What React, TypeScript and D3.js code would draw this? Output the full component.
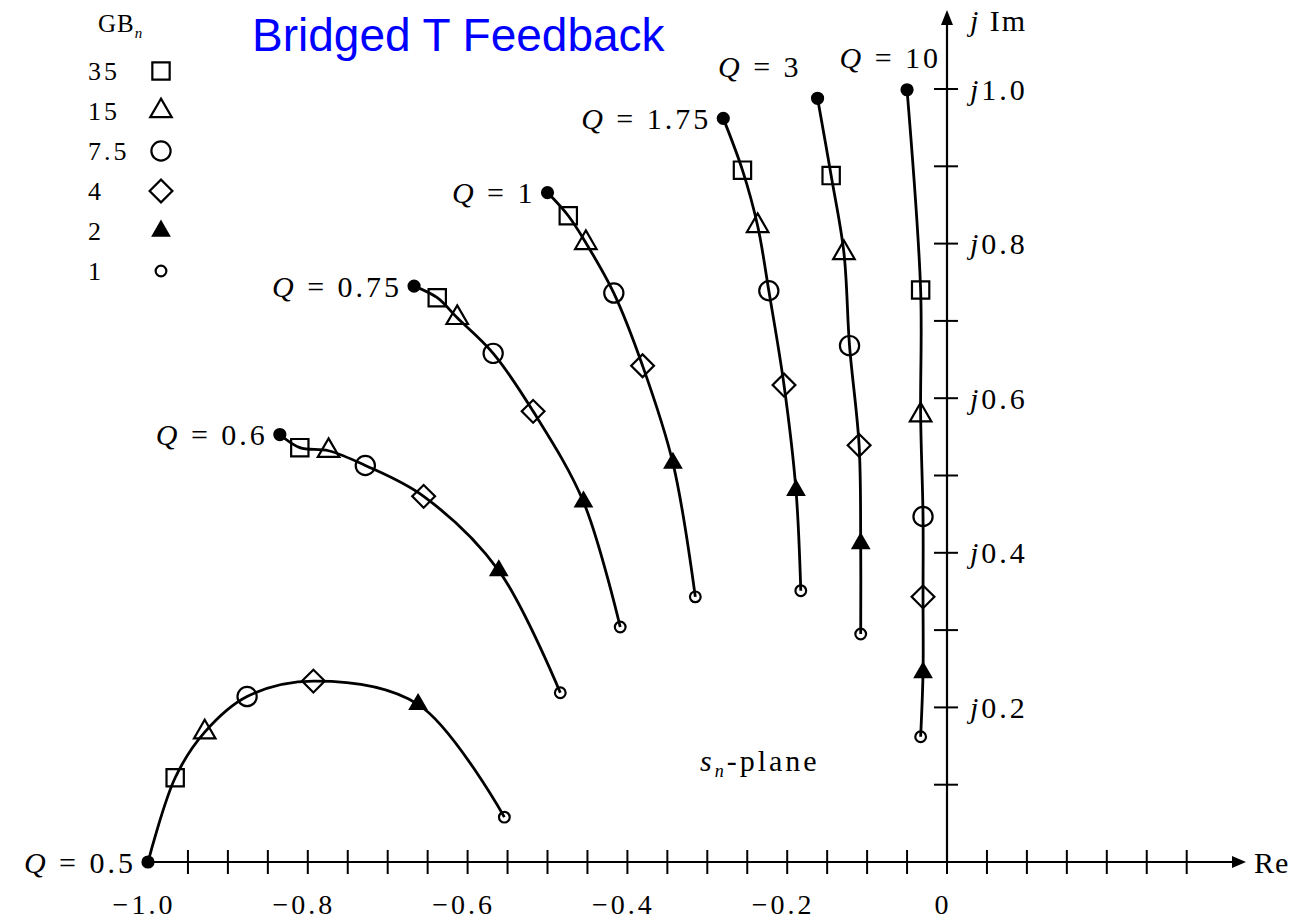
import React from "react";
import * as d3 from "d3";

// Q values of the loci and the GB_n legend entries
const qLabels = ["0.5", "0.6", "0.75", "1", "1.75", "3", "10"];
const gbLabels = ["35", "15", "7.5", "4", "2", "1"];

// axis ticks
const xTickValues = [-1.0, -0.8, -0.6, -0.4, -0.2, 0];
const xTickLabels = ["\u22121.0", "\u22120.8", "\u22120.6", "\u22120.4", "\u22120.2", "0"];
const yTickValues = [0.2, 0.4, 0.6, 0.8, 1.0];
const yTickLabels = ["0.2", "0.4", "0.6", "0.8", "1.0"];

// pole positions along each locus: [GB=inf, 35, 15, 7.5, 4, 2, 1]
const q05Re = [-1.0, -0.966, -0.929, -0.876, -0.793, -0.662, -0.554];
const q05Im = [0.0, 0.109, 0.168, 0.214, 0.234, 0.204, 0.058];
const q06Re = [-0.835, -0.81, -0.774, -0.728, -0.655, -0.561, -0.484];
const q06Im = [0.553, 0.536, 0.532, 0.513, 0.473, 0.377, 0.219];
const q075Re = [-0.667, -0.638, -0.613, -0.568, -0.518, -0.455, -0.409];
const q075Im = [0.745, 0.73, 0.704, 0.658, 0.583, 0.466, 0.304];
const q1Re = [-0.5, -0.474, -0.452, -0.417, -0.381, -0.343, -0.315];
const q1Im = [0.866, 0.836, 0.801, 0.736, 0.642, 0.516, 0.343];
const q175Re = [-0.28, -0.256, -0.237, -0.223, -0.204, -0.189, -0.183];
const q175Im = [0.962, 0.895, 0.823, 0.739, 0.617, 0.481, 0.351];
const q3Re = [-0.162, -0.145, -0.129, -0.122, -0.11, -0.108, -0.108];
const q3Im = [0.988, 0.888, 0.788, 0.668, 0.539, 0.412, 0.295];
const q10Re = [-0.05, -0.033, -0.033, -0.03, -0.03, -0.03, -0.033];
const q10Im = [0.999, 0.74, 0.578, 0.447, 0.343, 0.245, 0.162];

const lociRe = [q05Re, q06Re, q075Re, q1Re, q175Re, q3Re, q10Re];
const lociIm = [q05Im, q06Im, q075Im, q1Im, q175Im, q3Im, q10Im];

const W = 1299;
const H = 924;
const serif = "'Liberation Serif', 'Times New Roman', serif";
const sp = 3; // the scanned lettering is loosely spaced

const x = d3.scaleLinear().domain([-1, 0]).range([148, 947]);
const y = d3.scaleLinear().domain([0, 1]).range([862, 89]);

// marker kinds, index 0 is the GB=inf dot
type Mk = { type: d3.SymbolType; size: number; fill: boolean; rot?: number };
const markers: Mk[] = [
  { type: d3.symbolCircle, size: 95, fill: true },
  { type: d3.symbolSquare, size: 300, fill: false },
  { type: d3.symbolTriangle, size: 200, fill: false },
  { type: d3.symbolCircle, size: 290, fill: false },
  { type: d3.symbolSquare, size: 260, fill: false, rot: 45 },
  { type: d3.symbolTriangle, size: 110, fill: true },
  { type: d3.symbolCircle, size: 90, fill: false },
];

function Marker({ k, cx, cy }: { k: number; cx: number; cy: number }) {
  const m = markers[k];
  const d = d3.symbol().type(m.type).size(m.size)() as string;
  return (
    <path
      d={d}
      transform={`translate(${cx},${cy})${m.rot ? ` rotate(${m.rot})` : ""}`}
      fill={m.fill ? "#000" : "none"}
      stroke="#000"
      strokeWidth={2.2}
    />
  );
}

function QLabel({ i, px, py }: { i: number; px: number; py: number }) {
  let tx = px - 12;
  let ty = py;
  if (i === 5) {
    tx = px - 16;
    ty = py - 32;
  } else if (i === 6) {
    tx = px + 34;
    ty = py - 32;
  }
  return (
    <text
      x={tx}
      y={ty}
      dy="0.35em"
      textAnchor="end"
      fontFamily={serif}
      fontSize={30}
      letterSpacing={sp}
      fill="#000"
    >
      <tspan fontStyle="italic">Q</tspan>
      {" = " + qLabels[i]}
    </text>
  );
}

export default function App() {
  const line = d3
    .line<[number, number]>()
    .x((d) => x(d[0]))
    .y((d) => y(d[1]))
    .curve(d3.curveCatmullRom.alpha(0.5));

  const x0 = x(0);
  const y0 = y(0);
  const minorX = d3.range(-19, 7).map((k) => k * 0.05);
  const minorY = d3.range(1, 11).map((k) => k * 0.1);

  return (
    <svg
      width={W}
      height={H}
      style={{ position: "absolute", left: 0, top: 0, background: "#fff" }}
    >
      <rect width={W} height={H} fill="#fff" />

      {/* title */}
      <text
        x={252}
        y={51}
        fontFamily="'Liberation Sans', Arial, sans-serif"
        fontSize={46}
        fill="#0000FF"
      >
        Bridged T Feedback
      </text>

      {/* Re axis */}
      <line x1={x(-1) - 4} x2={1238} y1={y0} y2={y0} stroke="#000" strokeWidth={2.2} />
      <path d={`M1246,${y0} L1232,${y0 - 6} L1232,${y0 + 6} Z`} fill="#000" />
      <text x={1254} y={y0} dy="0.35em" fontFamily={serif} fontSize={30} letterSpacing={1}>
        Re
      </text>
      {minorX.map((v) => (
        <line
          key={"tx" + v}
          x1={x(v)}
          x2={x(v)}
          y1={y0 - 12}
          y2={y0 + 12}
          stroke="#000"
          strokeWidth={2}
        />
      ))}
      {xTickValues.map((v, i) => (
        <text
          key={"lx" + i}
          x={x(v) - 4}
          y={914}
          textAnchor="middle"
          fontFamily={serif}
          fontSize={28}
          letterSpacing={sp}
        >
          {xTickLabels[i]}
        </text>
      ))}

      {/* Im axis */}
      <line x1={x0} x2={x0} y1={y0} y2={20} stroke="#000" strokeWidth={2.2} />
      <path d={`M${x0},10 L${x0 - 6},25 L${x0 + 6},25 Z`} fill="#000" />
      <text x={970} y={20} dy="0.35em" fontFamily={serif} fontSize={30} letterSpacing={2}>
        <tspan fontStyle="italic">j</tspan>
        {" Im"}
      </text>
      {minorY.map((v) => (
        <line
          key={"ty" + v}
          x1={x0 - 13}
          x2={x0 + 11}
          y1={y(v)}
          y2={y(v)}
          stroke="#000"
          strokeWidth={2}
        />
      ))}
      {yTickValues.map((v, i) => (
        <text
          key={"ly" + i}
          x={970}
          y={y(v)}
          dy="0.35em"
          fontFamily={serif}
          fontSize={30}
          letterSpacing={sp}
        >
          <tspan fontStyle="italic">j</tspan>
          {yTickLabels[i]}
        </text>
      ))}

      {/* plane label */}
      <text x={700} y={760} dy="0.35em" fontFamily={serif} fontSize={30} letterSpacing={sp}>
        <tspan fontStyle="italic">s</tspan>
        <tspan fontStyle="italic" fontSize={18} dy={6}>
          n
        </tspan>
        <tspan dy={-6}>-plane</tspan>
      </text>

      {/* loci */}
      {lociRe.map((re, i) => {
        const pts = re.map((r, j) => [r, lociIm[i][j]] as [number, number]);
        return (
          <g key={"q" + i}>
            <path d={line(pts) as string} fill="none" stroke="#000" strokeWidth={2.8} />
            {pts.map((p, j) => (
              <Marker key={j} k={j} cx={x(p[0])} cy={y(p[1])} />
            ))}
            <QLabel i={i} px={x(pts[0][0])} py={y(pts[0][1])} />
          </g>
        );
      })}

      {/* legend */}
      <text x={98} y={23} dy="0.35em" fontFamily={serif} fontSize={25} letterSpacing={1}>
        GB
        <tspan fontStyle="italic" fontSize={15} dy={6}>
          n
        </tspan>
      </text>
      {gbLabels.map((g, i) => (
        <g key={"lg" + i}>
          <text
            x={88}
            y={71 + i * 40}
            dy="0.35em"
            fontFamily={serif}
            fontSize={26}
            letterSpacing={sp}
          >
            {g}
          </text>
          <Marker k={i + 1} cx={161} cy={71 + i * 40} />
        </g>
      ))}
    </svg>
  );
}
